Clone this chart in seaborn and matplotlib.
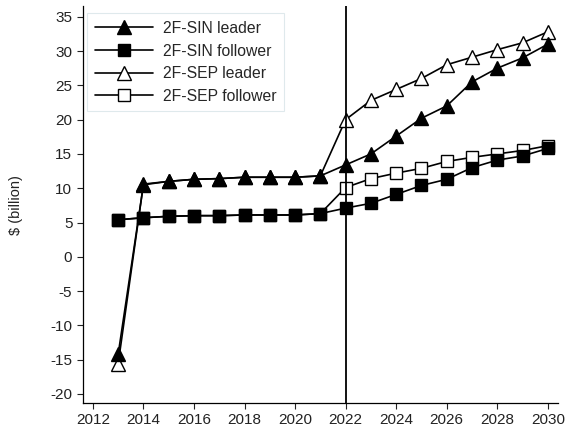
import matplotlib
matplotlib.use("Agg")
import matplotlib.pyplot as plt
import seaborn as sns
import pandas as pd

years = list(range(2013, 2031))
sin_leader = [-14.2, 10.5, 11.0, 11.3, 11.4, 11.6, 11.6, 11.6, 11.8, 13.4, 15.0, 17.6, 20.2, 22.0, 25.5, 27.5, 29.0, 31.0]
sin_follower = [5.4, 5.7, 5.9, 6.0, 6.0, 6.1, 6.1, 6.1, 6.3, 7.1, 7.8, 9.1, 10.4, 11.3, 13.0, 14.1, 14.7, 15.8]
sep_leader = [-15.6, 10.6, 11.0, 11.3, 11.4, 11.6, 11.6, 11.6, 11.8, 20.0, 22.8, 24.4, 26.0, 28.0, 29.1, 30.2, 31.2, 32.8]
sep_follower = [5.4, 5.7, 5.9, 6.0, 6.0, 6.1, 6.1, 6.1, 6.3, 10.1, 11.4, 12.2, 12.9, 13.9, 14.5, 15.0, 15.5, 16.2]
series_names = ["2F-SIN leader", "2F-SIN follower", "2F-SEP leader", "2F-SEP follower"]
x_ticks = list(range(2012, 2031, 2))
y_ticks = list(range(-20, 36, 5))
vline_year = 2022
y_label = "$ (billion)"

sns.set_style("white")
plt.rcParams['font.family'] = ['Liberation Sans', 'DejaVu Sans']
plt.rcParams['axes.unicode_minus'] = False

fig = plt.figure(figsize=(5.67, 4.30), dpi=100)
ax = fig.add_axes([0.146, 0.063, 0.838, 0.922])

styles = [
    (sin_leader, "^", "black", 10.5, 4),
    (sin_follower, "s", "black", 8.5, 4),
    (sep_leader, "^", "white", 10.5, 3),
    (sep_follower, "s", "white", 8.5, 3),
]
for name, (vals, mk, fc, ms, z) in zip(series_names, styles):
    df = pd.DataFrame({"year": years, "value": vals})
    sns.lineplot(data=df, x="year", y="value", ax=ax, color="black", lw=1.2,
                 marker=mk, markersize=ms, markerfacecolor=fc,
                 markeredgecolor="black", markeredgewidth=1.0, label=name,
                 zorder=z)

ax.axvline(vline_year, color="black", lw=1.3, zorder=5)

ax.set_xlim(2011.6, 2030.4)
ax.set_ylim(-21.3, 36.5)
ax.set_xticks(x_ticks)
ax.set_yticks(y_ticks)
ax.set_xlabel("")
ax.set_ylabel(y_label, fontsize=10.5, color="#222222", labelpad=20)
ax.tick_params(axis="both", labelsize=11, colors="#222222", length=4,
               width=0.8, direction="out", left=True, bottom=True)
for t in ax.get_xticklines() + ax.get_yticklines():
    t.set_color("#777777")
sns.despine(ax=ax)
for s in ["left", "bottom"]:
    ax.spines[s].set_color("black")
    ax.spines[s].set_linewidth(0.9)

leg = ax.legend(loc="upper left", bbox_to_anchor=(0.0, 0.995), fontsize=11.3,
                handlelength=3.7, frameon=True, fancybox=False,
                borderpad=0.5, labelspacing=0.48, handletextpad=0.6,
                borderaxespad=0.3)
leg.get_frame().set_edgecolor("#d8e4e8")
leg.get_frame().set_linewidth(0.8)

fig.savefig("out.png", dpi=100)
